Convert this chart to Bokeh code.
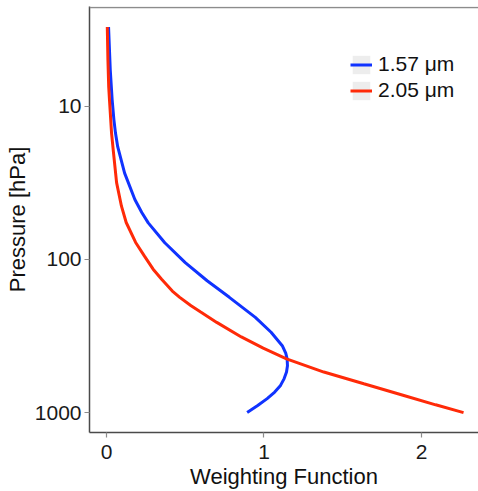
from bokeh.plotting import figure
from bokeh.models import Range1d, FixedTicker, Legend, LegendItem, Span, ColumnDataSource
from bokeh.embed import file_html
from bokeh.resources import INLINE

# ---- data ----
blue_label = "1.57 μm"
blue_p = [3.05, 5.84, 9.15, 12.3, 15, 18.4, 27.4, 40.7, 49.5, 57.8, 78, 105, 138, 177, 239,
          299, 366, 410, 446, 495, 544, 600, 665, 735, 811, 900, 1000]
blue_w = [0.013, 0.024, 0.036, 0.047, 0.057, 0.071, 0.115, 0.180, 0.224, 0.265, 0.370, 0.500,
          0.639, 0.780, 0.945, 1.045, 1.116, 1.138, 1.147, 1.149, 1.143, 1.128, 1.105, 1.068,
          1.020, 0.960, 0.893]

red_label = "2.05 μm"
red_p = [3.05, 5, 7.5, 9.15, 15, 20, 31.6, 45, 57.5, 77.6, 95, 116, 135, 161, 177, 201, 221,
         258, 321, 380, 446, 544, 649, 773, 890, 1000]
red_w = [0.005, 0.009, 0.014, 0.019, 0.032, 0.044, 0.064, 0.095, 0.125, 0.185, 0.240, 0.296,
         0.350, 0.418, 0.465, 0.537, 0.598, 0.700, 0.856, 0.995, 1.143, 1.38, 1.634, 1.888,
         2.09, 2.267]

y_ticks = [10, 100, 1000]
y_tick_labels = ["10", "100", "1000"]
x_ticks = [0, 1, 2]
x_tick_labels = ["0", "1", "2"]

FONT = "Liberation Sans"
NAN = float("nan")

p = figure(width=478, height=491, y_axis_type="log",
           x_range=Range1d(-0.108, 2.362), y_range=Range1d(1349, 2.24),
           output_backend="svg", toolbar_location=None,
           min_border_left=89, min_border_right=0, min_border_top=6, min_border_bottom=58)

p.xgrid.visible = False
p.ygrid.visible = False
p.outline_line_color = None
p.background_fill_color = "white"

top = Span(location=2.27, dimension="width", line_color="#8c8c8c", line_width=1.5)
p.add_layout(top)

src_b = ColumnDataSource(dict(w=blue_w, p=blue_p))
src_r = ColumnDataSource(dict(w=red_w, p=red_p))
rb = p.line("w", "p", source=src_b, line_color="#1033FF", line_width=3)
rr = p.line("w", "p", source=src_r, line_color="#FF2A08", line_width=3)

# legend-key background only (no visible mark in the plot)
keybg = p.quad(left=[NAN], right=[NAN], top=[NAN], bottom=[NAN],
               fill_color="#ededed", line_color=None)

legend = Legend(items=[LegendItem(label=blue_label, renderers=[keybg, rb]),
                       LegendItem(label=red_label, renderers=[keybg, rr])],
                location=(261, 330), padding=0, margin=0, spacing=2,
                glyph_width=22, glyph_height=23, label_standoff=6,
                border_line_color=None, background_fill_alpha=0,
                label_text_font=FONT, label_text_font_size="21px",
                label_text_color="#111111", label_height=23)
p.add_layout(legend, "center")

for ax, ticks, labels in ((p.xaxis, x_ticks, x_tick_labels), (p.yaxis, y_ticks, y_tick_labels)):
    ax.ticker = FixedTicker(ticks=ticks, minor_ticks=[])
    ax.major_label_overrides = {t: l for t, l in zip(ticks, labels)}
    ax.axis_line_color = "#4a4a4a"
    ax.axis_line_width = 1.5
    ax.major_tick_line_color = "#8c8c8c"
    ax.major_tick_line_width = 1.2
    ax.major_tick_out = 5
    ax.major_tick_in = 0
    ax.minor_tick_out = 0
    ax.minor_tick_in = 0
    ax.major_label_text_font = FONT
    ax.major_label_text_font_size = "21px"
    ax.major_label_text_color = "#1a1a1a"
    ax.axis_label_text_font = FONT
    ax.axis_label_text_font_size = "22px"
    ax.axis_label_text_font_style = "normal"
    ax.axis_label_text_color = "#111111"

p.xaxis.axis_label = "Weighting Function"
p.yaxis.axis_label = "Pressure [hPa]"
p.yaxis.major_label_standoff = 3
p.yaxis.axis_label_standoff = 2
p.xaxis.major_label_standoff = 7
p.xaxis.axis_label_standoff = 2

open("out.html", "w").write(file_html(p, INLINE))
